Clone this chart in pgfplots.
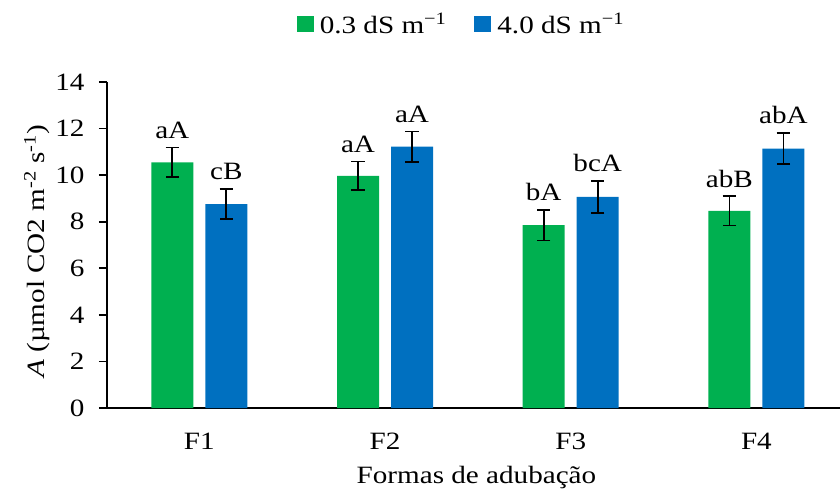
\documentclass[border=0pt]{standalone}
\usepackage{fontspec}
\setmainfont[FakeStretch=1.17]{Liberation Serif}
\usepackage{pgfplots}
\usepackage{pgfplotstable}
\pgfplotsset{compat=1.18}

\definecolor{grn}{RGB}{0,176,80}
\definecolor{blu}{RGB}{0,112,192}

% net photosynthesis, mean and error, with test letters
\pgfplotstableread{
x y err lab
0 10.55 0.63 aA
1 9.97 0.62 aA
2 7.85 0.66 bA
3 8.47 0.63 abB
}\lowsalt
\pgfplotstableread{
x y err lab
0 8.76 0.65 cB
1 11.22 0.65 aA
2 9.07 0.69 bcA
3 11.14 0.67 abA
}\highsalt

\begin{document}
\begin{tikzpicture}
\useasboundingbox (-107bp,-85bp) rectangle (733bp,408bp);
\begin{axis}[
  at={(0,0)}, anchor=south west,
  scale only axis,
  width=733bp, height=326bp,
  font=\fontsize{25}{30}\selectfont,
  /pgf/number format/assume math mode=true,
  ybar=12bp, bar width=42bp,
  xmin=-0.497, xmax=3.45,
  ymin=0, ymax=14,
  ytick={0,2,...,14},
  xtick={0,1,2,3},
  xticklabels={F1,F2,F3,F4},
  axis x line=bottom, axis y line=left,
  axis line style={-, line width=1.8bp, black},
  major tick length=8bp,
  tick align=outside,
  tick style={line width=1.8bp, black},
  x tick style={draw=none},
  xticklabel style={anchor=base, yshift=-33bp},
  yticklabel style={anchor=east, xshift=-11bp},
  xlabel={Formas de adubação},
  x label style={at={(rel axis cs:0.504,0)}, anchor=base, yshift=-75bp},
  ylabel={\textit{A} (µmol CO2 m\textsuperscript{-2} s\textsuperscript{-1})},
  y label style={at={(rel axis cs:-0.0955,0.48)}, anchor=center, rotate=0},
  legend columns=2,
  legend style={at={(rel axis cs:0.4835,1)}, anchor=center, yshift=58bp,
    draw=none, fill=none,
    /tikz/every odd column/.append style={column sep=4bp},
    /tikz/every even column/.append style={column sep=26bp}},
  legend image code/.code={\fill[#1] (0bp,-8bp) rectangle (17bp,8bp);},
  point meta=explicit symbolic,
  visualization depends on={\thisrow{err}\as\errv},
  nodes near coords,
  nodes near coords style={anchor=base, inner sep=0pt, black,
    yshift={\errv*23.2857bp+9bp}},
  error bars/y dir=both,
  error bars/y explicit,
  error bars/error bar style={line width=1.6bp, black},
  error bars/error mark options={rotate=90, mark size=6.7bp, line width=1.6bp, black},
]
\addplot[fill=grn, draw=none] table[x=x, y=y, y error=err, meta=lab] {\lowsalt};
\addlegendentry{0.3 dS m\textsuperscript{−1}}
\addplot[fill=blu, draw=none] table[x=x, y=y, y error=err, meta=lab] {\highsalt};
\addlegendentry{4.0 dS m\textsuperscript{−1}}
\end{axis}
\end{tikzpicture}
\end{document}
